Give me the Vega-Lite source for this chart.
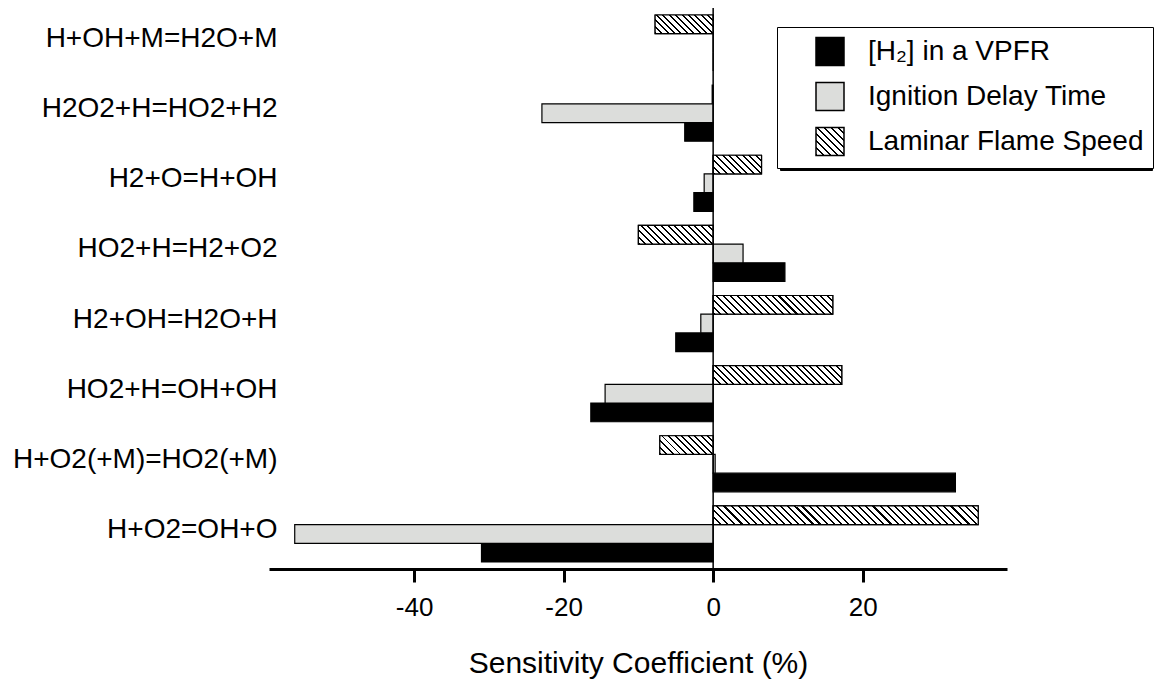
{
"$schema":"https://vega.github.io/schema/vega-lite/v6.json",
"width":738,"height":561,
"autosize":{"type":"none"},
"padding":{"left":269,"top":8,"right":149,"bottom":115},
"background":"white",
"config":{"view":{"stroke":null},"font":"Liberation Sans"},
"data":{"values":[
{"reaction":"H+OH+M=H2O+M","series":"[H₂] in a VPFR","value":0},
{"reaction":"H+OH+M=H2O+M","series":"Ignition Delay Time","value":0},
{"reaction":"H+OH+M=H2O+M","series":"Laminar Flame Speed","value":-7.76},
{"reaction":"H2O2+H=HO2+H2","series":"[H₂] in a VPFR","value":-3.8},
{"reaction":"H2O2+H=HO2+H2","series":"Ignition Delay Time","value":-22.9},
{"reaction":"H2O2+H=HO2+H2","series":"Laminar Flame Speed","value":-0.13},
{"reaction":"H2+O=H+OH","series":"[H₂] in a VPFR","value":-2.58},
{"reaction":"H2+O=H+OH","series":"Ignition Delay Time","value":-1.2},
{"reaction":"H2+O=H+OH","series":"Laminar Flame Speed","value":6.47},
{"reaction":"HO2+H=H2+O2","series":"[H₂] in a VPFR","value":9.6},
{"reaction":"HO2+H=H2+O2","series":"Ignition Delay Time","value":4.0},
{"reaction":"HO2+H=H2+O2","series":"Laminar Flame Speed","value":-10.0},
{"reaction":"H2+OH=H2O+H","series":"[H₂] in a VPFR","value":-5.0},
{"reaction":"H2+OH=H2O+H","series":"Ignition Delay Time","value":-1.65},
{"reaction":"H2+OH=H2O+H","series":"Laminar Flame Speed","value":16.0},
{"reaction":"HO2+H=OH+OH","series":"[H₂] in a VPFR","value":-16.36},
{"reaction":"HO2+H=OH+OH","series":"Ignition Delay Time","value":-14.45},
{"reaction":"HO2+H=OH+OH","series":"Laminar Flame Speed","value":17.2},
{"reaction":"H+O2(+M)=HO2(+M)","series":"[H₂] in a VPFR","value":32.4},
{"reaction":"H+O2(+M)=HO2(+M)","series":"Ignition Delay Time","value":0.27},
{"reaction":"H+O2(+M)=HO2(+M)","series":"Laminar Flame Speed","value":-7.13},
{"reaction":"H+O2=OH+O","series":"[H₂] in a VPFR","value":-30.98},
{"reaction":"H+O2=OH+O","series":"Ignition Delay Time","value":-55.96},
{"reaction":"H+O2=OH+O","series":"Laminar Flame Speed","value":35.45}
]},
"layer":[
{
"encoding":{
"x":{"field":"value","type":"quantitative","scale":{"domain":[-59.4,39.3],"nice":false,"zero":false},
 "axis":{"values":[-40,-20,0,20],"labelExpr":"replace(datum.label,'\u2212','-')","title":"Sensitivity Coefficient (%)","grid":false,"domainWidth":3,"domainColor":"#000","tickWidth":3,"tickColor":"#000","tickSize":13,"labelFont":"Liberation Sans","labelFontSize":26,"labelColor":"#000","labelPadding":12,"titleFont":"Liberation Sans","titleFontSize":30,"titleFontWeight":"normal","titleColor":"#000","titlePadding":28}},
"y":{"field":"reaction","type":"nominal","sort":["H+OH+M=H2O+M","H2O2+H=HO2+H2","H2+O=H+OH","HO2+H=H2+O2","H2+OH=H2O+H","HO2+H=OH+OH","H+O2(+M)=HO2(+M)","H+O2=OH+O"],
 "scale":{"paddingInner":0.2,"paddingOuter":0.1},
 "axis":{"title":null,"domain":false,"ticks":false,"tickSize":0,"labelFont":"Liberation Sans","labelFontSize":28,"labelColor":"#000","labelPadding":-8,"labelOffset":-4,"labelLimit":400}},
"yOffset":{"field":"series","type":"nominal","scale":{"domain":["Laminar Flame Speed","Ignition Delay Time","[H₂] in a VPFR"],"paddingInner":0,"paddingOuter":0}}
},
"layer":[
{"transform":[{"filter":{"field":"series","equal":"Laminar Flame Speed"}}],
 "mark":{"type":"bar","fill":"#000","strokeWidth":1.2},
 "encoding":{"stroke":{"field":"series","type":"nominal","scale":{"domain":["Laminar Flame Speed","Ignition Delay Time","[H₂] in a VPFR"],"range":["#000","#000","#000"]},
  "legend":{"title":null,"orient":"none","legendX":511,"legendY":22,"fillColor":"#000","strokeColor":"#000","padding":12.2,"symbolType":"square","symbolSize":784,"symbolFillColor":"#000","symbolStrokeColor":"#000","symbolStrokeWidth":1.5,"symbolOffset":25.8,"labelExpr":"''","labelOffset":291,"labelFont":"Liberation Sans","labelFontSize":28,"labelColor":"#000","labelLimit":400,"rowPadding":7.8,"cornerRadius":0}}}
},
{"transform":[{"filter":{"not":{"field":"series","equal":"Laminar Flame Speed"}}}],
 "mark":{"type":"bar","stroke":"#000","strokeWidth":1.2},
 "encoding":{"fill":{"field":"series","type":"nominal","scale":{"domain":["[H₂] in a VPFR","Ignition Delay Time","Laminar Flame Speed"],
  "range":["#000000","#dcdddb",{"expr":"{gradient:'linear',x1:0,y1:1,x2:1,y2:0,stops:[{offset:0,color:'#000'},{offset:0.0375,color:'#000'},{offset:0.0375,color:'#fff'},{offset:0.125,color:'#fff'},{offset:0.125,color:'#000'},{offset:0.1625,color:'#000'},{offset:0.1625,color:'#fff'},{offset:0.25,color:'#fff'},{offset:0.25,color:'#000'},{offset:0.2875,color:'#000'},{offset:0.2875,color:'#fff'},{offset:0.375,color:'#fff'},{offset:0.375,color:'#000'},{offset:0.4125,color:'#000'},{offset:0.4125,color:'#fff'},{offset:0.5,color:'#fff'},{offset:0.5,color:'#000'},{offset:0.5375,color:'#000'},{offset:0.5375,color:'#fff'},{offset:0.625,color:'#fff'},{offset:0.625,color:'#000'},{offset:0.6625,color:'#000'},{offset:0.6625,color:'#fff'},{offset:0.75,color:'#fff'},{offset:0.75,color:'#000'},{offset:0.7875,color:'#000'},{offset:0.7875,color:'#fff'},{offset:0.875,color:'#fff'},{offset:0.875,color:'#000'},{offset:0.9125,color:'#000'},{offset:0.9125,color:'#fff'},{offset:1,color:'#fff'}]}"}]},
  "legend":{"title":null,"orient":"none","legendX":508,"legendY":19,"fillColor":"#fff","strokeColor":"#000","padding":9.5,"symbolType":"square","symbolSize":784,"symbolStrokeColor":"#000","symbolStrokeWidth":1.5,"symbolOffset":28.5,"labelOffset":23,"labelFont":"Liberation Sans","labelFontSize":28,"labelColor":"#000","labelLimit":400,"rowPadding":11,"cornerRadius":0}}}
},
{"transform":[{"filter":{"and":[{"field":"series","equal":"Laminar Flame Speed"},{"field":"reaction","equal":"H+OH+M=H2O+M"}]}}],
 "mark":{"type":"bar","stroke":"#000","strokeWidth":1.2,"fill":{"gradient":"linear","x1":0,"y1":1,"x2":1.1979,"y2":0.6138,"stops":[
{"offset":0,"color":"#000"},{"offset":0.025,"color":"#000"},{"offset":0.025,"color":"#fff"},{"offset":0.08333,"color":"#fff"},
{"offset":0.08333,"color":"#000"},{"offset":0.10833,"color":"#000"},{"offset":0.10833,"color":"#fff"},{"offset":0.16667,"color":"#fff"},
{"offset":0.16667,"color":"#000"},{"offset":0.19167,"color":"#000"},{"offset":0.19167,"color":"#fff"},{"offset":0.25,"color":"#fff"},
{"offset":0.25,"color":"#000"},{"offset":0.275,"color":"#000"},{"offset":0.275,"color":"#fff"},{"offset":0.33333,"color":"#fff"},
{"offset":0.33333,"color":"#000"},{"offset":0.35833,"color":"#000"},{"offset":0.35833,"color":"#fff"},{"offset":0.41667,"color":"#fff"},
{"offset":0.41667,"color":"#000"},{"offset":0.44167,"color":"#000"},{"offset":0.44167,"color":"#fff"},{"offset":0.5,"color":"#fff"},
{"offset":0.5,"color":"#000"},{"offset":0.525,"color":"#000"},{"offset":0.525,"color":"#fff"},{"offset":0.58333,"color":"#fff"},
{"offset":0.58333,"color":"#000"},{"offset":0.60833,"color":"#000"},{"offset":0.60833,"color":"#fff"},{"offset":0.66667,"color":"#fff"},
{"offset":0.66667,"color":"#000"},{"offset":0.69167,"color":"#000"},{"offset":0.69167,"color":"#fff"},{"offset":0.75,"color":"#fff"},
{"offset":0.75,"color":"#000"},{"offset":0.775,"color":"#000"},{"offset":0.775,"color":"#fff"},{"offset":0.83333,"color":"#fff"},
{"offset":0.83333,"color":"#000"},{"offset":0.85833,"color":"#000"},{"offset":0.85833,"color":"#fff"},{"offset":0.91667,"color":"#fff"},
{"offset":0.91667,"color":"#000"},{"offset":0.94167,"color":"#000"},{"offset":0.94167,"color":"#fff"},{"offset":1,"color":"#fff"}]}}
},
{"transform":[{"filter":{"and":[{"field":"series","equal":"Laminar Flame Speed"},{"field":"reaction","equal":"H2+O=H+OH"}]}}],
 "mark":{"type":"bar","stroke":"#000","strokeWidth":1.2,"fill":{"gradient":"linear","x1":0,"y1":1,"x2":1.2063,"y2":0.5335,"stops":[
{"offset":0,"color":"#000"},{"offset":0.03,"color":"#000"},{"offset":0.03,"color":"#fff"},{"offset":0.1,"color":"#fff"},
{"offset":0.1,"color":"#000"},{"offset":0.13,"color":"#000"},{"offset":0.13,"color":"#fff"},{"offset":0.2,"color":"#fff"},
{"offset":0.2,"color":"#000"},{"offset":0.23,"color":"#000"},{"offset":0.23,"color":"#fff"},{"offset":0.3,"color":"#fff"},
{"offset":0.3,"color":"#000"},{"offset":0.33,"color":"#000"},{"offset":0.33,"color":"#fff"},{"offset":0.4,"color":"#fff"},
{"offset":0.4,"color":"#000"},{"offset":0.43,"color":"#000"},{"offset":0.43,"color":"#fff"},{"offset":0.5,"color":"#fff"},
{"offset":0.5,"color":"#000"},{"offset":0.53,"color":"#000"},{"offset":0.53,"color":"#fff"},{"offset":0.6,"color":"#fff"},
{"offset":0.6,"color":"#000"},{"offset":0.63,"color":"#000"},{"offset":0.63,"color":"#fff"},{"offset":0.7,"color":"#fff"},
{"offset":0.7,"color":"#000"},{"offset":0.73,"color":"#000"},{"offset":0.73,"color":"#fff"},{"offset":0.8,"color":"#fff"},
{"offset":0.8,"color":"#000"},{"offset":0.83,"color":"#000"},{"offset":0.83,"color":"#fff"},{"offset":0.9,"color":"#fff"},
{"offset":0.9,"color":"#000"},{"offset":0.93,"color":"#000"},{"offset":0.93,"color":"#fff"},{"offset":1,"color":"#fff"}]}}
},
{"transform":[{"filter":{"and":[{"field":"series","equal":"Laminar Flame Speed"},{"field":"reaction","equal":"HO2+H=H2+O2"}]}}],
 "mark":{"type":"bar","stroke":"#000","strokeWidth":1.2,"fill":{"gradient":"linear","x1":0,"y1":1,"x2":1.1765,"y2":0.7056,"stops":[
{"offset":0,"color":"#000"},{"offset":0.021429,"color":"#000"},{"offset":0.021429,"color":"#fff"},{"offset":0.071429,"color":"#fff"},
{"offset":0.071429,"color":"#000"},{"offset":0.092857,"color":"#000"},{"offset":0.092857,"color":"#fff"},{"offset":0.142857,"color":"#fff"},
{"offset":0.142857,"color":"#000"},{"offset":0.164286,"color":"#000"},{"offset":0.164286,"color":"#fff"},{"offset":0.214286,"color":"#fff"},
{"offset":0.214286,"color":"#000"},{"offset":0.235714,"color":"#000"},{"offset":0.235714,"color":"#fff"},{"offset":0.285714,"color":"#fff"},
{"offset":0.285714,"color":"#000"},{"offset":0.307143,"color":"#000"},{"offset":0.307143,"color":"#fff"},{"offset":0.357143,"color":"#fff"},
{"offset":0.357143,"color":"#000"},{"offset":0.378571,"color":"#000"},{"offset":0.378571,"color":"#fff"},{"offset":0.428571,"color":"#fff"},
{"offset":0.428571,"color":"#000"},{"offset":0.45,"color":"#000"},{"offset":0.45,"color":"#fff"},{"offset":0.5,"color":"#fff"},
{"offset":0.5,"color":"#000"},{"offset":0.521429,"color":"#000"},{"offset":0.521429,"color":"#fff"},{"offset":0.571429,"color":"#fff"},
{"offset":0.571429,"color":"#000"},{"offset":0.592857,"color":"#000"},{"offset":0.592857,"color":"#fff"},{"offset":0.642857,"color":"#fff"},
{"offset":0.642857,"color":"#000"},{"offset":0.664286,"color":"#000"},{"offset":0.664286,"color":"#fff"},{"offset":0.714286,"color":"#fff"},
{"offset":0.714286,"color":"#000"},{"offset":0.735714,"color":"#000"},{"offset":0.735714,"color":"#fff"},{"offset":0.785714,"color":"#fff"},
{"offset":0.785714,"color":"#000"},{"offset":0.807143,"color":"#000"},{"offset":0.807143,"color":"#fff"},{"offset":0.857143,"color":"#fff"},
{"offset":0.857143,"color":"#000"},{"offset":0.878571,"color":"#000"},{"offset":0.878571,"color":"#fff"},{"offset":0.928571,"color":"#fff"},
{"offset":0.928571,"color":"#000"},{"offset":0.95,"color":"#000"},{"offset":0.95,"color":"#fff"},{"offset":1,"color":"#fff"}]}}
},
{"transform":[{"filter":{"and":[{"field":"series","equal":"Laminar Flame Speed"},{"field":"reaction","equal":"H2+OH=H2O+H"}]}}],
 "mark":{"type":"bar","stroke":"#000","strokeWidth":1.2,"fill":{"gradient":"linear","x1":0,"y1":1,"x2":1.1288,"y2":0.8235,"stops":[
{"offset":0,"color":"#000"},{"offset":0.015,"color":"#000"},{"offset":0.015,"color":"#fff"},{"offset":0.05,"color":"#fff"},
{"offset":0.05,"color":"#000"},{"offset":0.065,"color":"#000"},{"offset":0.065,"color":"#fff"},{"offset":0.1,"color":"#fff"},
{"offset":0.1,"color":"#000"},{"offset":0.115,"color":"#000"},{"offset":0.115,"color":"#fff"},{"offset":0.15,"color":"#fff"},
{"offset":0.15,"color":"#000"},{"offset":0.165,"color":"#000"},{"offset":0.165,"color":"#fff"},{"offset":0.2,"color":"#fff"},
{"offset":0.2,"color":"#000"},{"offset":0.215,"color":"#000"},{"offset":0.215,"color":"#fff"},{"offset":0.25,"color":"#fff"},
{"offset":0.25,"color":"#000"},{"offset":0.265,"color":"#000"},{"offset":0.265,"color":"#fff"},{"offset":0.3,"color":"#fff"},
{"offset":0.3,"color":"#000"},{"offset":0.315,"color":"#000"},{"offset":0.315,"color":"#fff"},{"offset":0.35,"color":"#fff"},
{"offset":0.35,"color":"#000"},{"offset":0.365,"color":"#000"},{"offset":0.365,"color":"#fff"},{"offset":0.4,"color":"#fff"},
{"offset":0.4,"color":"#000"},{"offset":0.415,"color":"#000"},{"offset":0.415,"color":"#fff"},{"offset":0.45,"color":"#fff"},
{"offset":0.45,"color":"#000"},{"offset":0.465,"color":"#000"},{"offset":0.465,"color":"#fff"},{"offset":0.5,"color":"#fff"},
{"offset":0.5,"color":"#000"},{"offset":0.515,"color":"#000"},{"offset":0.515,"color":"#fff"},{"offset":0.55,"color":"#fff"},
{"offset":0.55,"color":"#000"},{"offset":0.565,"color":"#000"},{"offset":0.565,"color":"#fff"},{"offset":0.6,"color":"#fff"},
{"offset":0.6,"color":"#000"},{"offset":0.615,"color":"#000"},{"offset":0.615,"color":"#fff"},{"offset":0.65,"color":"#fff"},
{"offset":0.65,"color":"#000"},{"offset":0.665,"color":"#000"},{"offset":0.665,"color":"#fff"},{"offset":0.7,"color":"#fff"},
{"offset":0.7,"color":"#000"},{"offset":0.715,"color":"#000"},{"offset":0.715,"color":"#fff"},{"offset":0.75,"color":"#fff"},
{"offset":0.75,"color":"#000"},{"offset":0.765,"color":"#000"},{"offset":0.765,"color":"#fff"},{"offset":0.8,"color":"#fff"},
{"offset":0.8,"color":"#000"},{"offset":0.815,"color":"#000"},{"offset":0.815,"color":"#fff"},{"offset":0.85,"color":"#fff"},
{"offset":0.85,"color":"#000"},{"offset":0.865,"color":"#000"},{"offset":0.865,"color":"#fff"},{"offset":0.9,"color":"#fff"},
{"offset":0.9,"color":"#000"},{"offset":0.915,"color":"#000"},{"offset":0.915,"color":"#fff"},{"offset":0.95,"color":"#fff"},
{"offset":0.95,"color":"#000"},{"offset":0.965,"color":"#000"},{"offset":0.965,"color":"#fff"},{"offset":1,"color":"#fff"}]}}
},
{"transform":[{"filter":{"and":[{"field":"series","equal":"Laminar Flame Speed"},{"field":"reaction","equal":"HO2+H=OH+OH"}]}}],
 "mark":{"type":"bar","stroke":"#000","strokeWidth":1.2,"fill":{"gradient":"linear","x1":0,"y1":1,"x2":1.1217,"y2":0.8369,"stops":[
{"offset":0,"color":"#000"},{"offset":0.013636,"color":"#000"},{"offset":0.013636,"color":"#fff"},{"offset":0.045455,"color":"#fff"},
{"offset":0.045455,"color":"#000"},{"offset":0.059091,"color":"#000"},{"offset":0.059091,"color":"#fff"},{"offset":0.090909,"color":"#fff"},
{"offset":0.090909,"color":"#000"},{"offset":0.104545,"color":"#000"},{"offset":0.104545,"color":"#fff"},{"offset":0.136364,"color":"#fff"},
{"offset":0.136364,"color":"#000"},{"offset":0.15,"color":"#000"},{"offset":0.15,"color":"#fff"},{"offset":0.181818,"color":"#fff"},
{"offset":0.181818,"color":"#000"},{"offset":0.195455,"color":"#000"},{"offset":0.195455,"color":"#fff"},{"offset":0.227273,"color":"#fff"},
{"offset":0.227273,"color":"#000"},{"offset":0.240909,"color":"#000"},{"offset":0.240909,"color":"#fff"},{"offset":0.272727,"color":"#fff"},
{"offset":0.272727,"color":"#000"},{"offset":0.286364,"color":"#000"},{"offset":0.286364,"color":"#fff"},{"offset":0.318182,"color":"#fff"},
{"offset":0.318182,"color":"#000"},{"offset":0.331818,"color":"#000"},{"offset":0.331818,"color":"#fff"},{"offset":0.363636,"color":"#fff"},
{"offset":0.363636,"color":"#000"},{"offset":0.377273,"color":"#000"},{"offset":0.377273,"color":"#fff"},{"offset":0.409091,"color":"#fff"},
{"offset":0.409091,"color":"#000"},{"offset":0.422727,"color":"#000"},{"offset":0.422727,"color":"#fff"},{"offset":0.454545,"color":"#fff"},
{"offset":0.454545,"color":"#000"},{"offset":0.468182,"color":"#000"},{"offset":0.468182,"color":"#fff"},{"offset":0.5,"color":"#fff"},
{"offset":0.5,"color":"#000"},{"offset":0.513636,"color":"#000"},{"offset":0.513636,"color":"#fff"},{"offset":0.545455,"color":"#fff"},
{"offset":0.545455,"color":"#000"},{"offset":0.559091,"color":"#000"},{"offset":0.559091,"color":"#fff"},{"offset":0.590909,"color":"#fff"},
{"offset":0.590909,"color":"#000"},{"offset":0.604545,"color":"#000"},{"offset":0.604545,"color":"#fff"},{"offset":0.636364,"color":"#fff"},
{"offset":0.636364,"color":"#000"},{"offset":0.65,"color":"#000"},{"offset":0.65,"color":"#fff"},{"offset":0.681818,"color":"#fff"},
{"offset":0.681818,"color":"#000"},{"offset":0.695455,"color":"#000"},{"offset":0.695455,"color":"#fff"},{"offset":0.727273,"color":"#fff"},
{"offset":0.727273,"color":"#000"},{"offset":0.740909,"color":"#000"},{"offset":0.740909,"color":"#fff"},{"offset":0.772727,"color":"#fff"},
{"offset":0.772727,"color":"#000"},{"offset":0.786364,"color":"#000"},{"offset":0.786364,"color":"#fff"},{"offset":0.818182,"color":"#fff"},
{"offset":0.818182,"color":"#000"},{"offset":0.831818,"color":"#000"},{"offset":0.831818,"color":"#fff"},{"offset":0.863636,"color":"#fff"},
{"offset":0.863636,"color":"#000"},{"offset":0.877273,"color":"#000"},{"offset":0.877273,"color":"#fff"},{"offset":0.909091,"color":"#fff"},
{"offset":0.909091,"color":"#000"},{"offset":0.922727,"color":"#000"},{"offset":0.922727,"color":"#fff"},{"offset":0.954545,"color":"#fff"},
{"offset":0.954545,"color":"#000"},{"offset":0.968182,"color":"#000"},{"offset":0.968182,"color":"#fff"},{"offset":1,"color":"#fff"}]}}
},
{"transform":[{"filter":{"and":[{"field":"series","equal":"Laminar Flame Speed"},{"field":"reaction","equal":"H+O2(+M)=HO2(+M)"}]}}],
 "mark":{"type":"bar","stroke":"#000","strokeWidth":1.2,"fill":{"gradient":"linear","x1":0,"y1":1,"x2":1.2028,"y2":0.5781,"stops":[
{"offset":0,"color":"#000"},{"offset":0.027273,"color":"#000"},{"offset":0.027273,"color":"#fff"},{"offset":0.090909,"color":"#fff"},
{"offset":0.090909,"color":"#000"},{"offset":0.118182,"color":"#000"},{"offset":0.118182,"color":"#fff"},{"offset":0.181818,"color":"#fff"},
{"offset":0.181818,"color":"#000"},{"offset":0.209091,"color":"#000"},{"offset":0.209091,"color":"#fff"},{"offset":0.272727,"color":"#fff"},
{"offset":0.272727,"color":"#000"},{"offset":0.3,"color":"#000"},{"offset":0.3,"color":"#fff"},{"offset":0.363636,"color":"#fff"},
{"offset":0.363636,"color":"#000"},{"offset":0.390909,"color":"#000"},{"offset":0.390909,"color":"#fff"},{"offset":0.454545,"color":"#fff"},
{"offset":0.454545,"color":"#000"},{"offset":0.481818,"color":"#000"},{"offset":0.481818,"color":"#fff"},{"offset":0.545455,"color":"#fff"},
{"offset":0.545455,"color":"#000"},{"offset":0.572727,"color":"#000"},{"offset":0.572727,"color":"#fff"},{"offset":0.636364,"color":"#fff"},
{"offset":0.636364,"color":"#000"},{"offset":0.663636,"color":"#000"},{"offset":0.663636,"color":"#fff"},{"offset":0.727273,"color":"#fff"},
{"offset":0.727273,"color":"#000"},{"offset":0.754545,"color":"#000"},{"offset":0.754545,"color":"#fff"},{"offset":0.818182,"color":"#fff"},
{"offset":0.818182,"color":"#000"},{"offset":0.845455,"color":"#000"},{"offset":0.845455,"color":"#fff"},{"offset":0.909091,"color":"#fff"},
{"offset":0.909091,"color":"#000"},{"offset":0.936364,"color":"#000"},{"offset":0.936364,"color":"#fff"},{"offset":1,"color":"#fff"}]}}
},
{"transform":[{"filter":{"and":[{"field":"series","equal":"Laminar Flame Speed"},{"field":"reaction","equal":"H+O2=OH+O"}]}}],
 "mark":{"type":"bar","stroke":"#000","strokeWidth":1.2,"fill":{"gradient":"linear","x1":0,"y1":1,"x2":1.0653,"y2":0.9248,"stops":[
{"offset":0,"color":"#000"},{"offset":0.0075,"color":"#000"},{"offset":0.0075,"color":"#fff"},{"offset":0.025,"color":"#fff"},
{"offset":0.025,"color":"#000"},{"offset":0.0325,"color":"#000"},{"offset":0.0325,"color":"#fff"},{"offset":0.05,"color":"#fff"},
{"offset":0.05,"color":"#000"},{"offset":0.0575,"color":"#000"},{"offset":0.0575,"color":"#fff"},{"offset":0.075,"color":"#fff"},
{"offset":0.075,"color":"#000"},{"offset":0.0825,"color":"#000"},{"offset":0.0825,"color":"#fff"},{"offset":0.1,"color":"#fff"},
{"offset":0.1,"color":"#000"},{"offset":0.1075,"color":"#000"},{"offset":0.1075,"color":"#fff"},{"offset":0.125,"color":"#fff"},
{"offset":0.125,"color":"#000"},{"offset":0.1325,"color":"#000"},{"offset":0.1325,"color":"#fff"},{"offset":0.15,"color":"#fff"},
{"offset":0.15,"color":"#000"},{"offset":0.1575,"color":"#000"},{"offset":0.1575,"color":"#fff"},{"offset":0.175,"color":"#fff"},
{"offset":0.175,"color":"#000"},{"offset":0.1825,"color":"#000"},{"offset":0.1825,"color":"#fff"},{"offset":0.2,"color":"#fff"},
{"offset":0.2,"color":"#000"},{"offset":0.2075,"color":"#000"},{"offset":0.2075,"color":"#fff"},{"offset":0.225,"color":"#fff"},
{"offset":0.225,"color":"#000"},{"offset":0.2325,"color":"#000"},{"offset":0.2325,"color":"#fff"},{"offset":0.25,"color":"#fff"},
{"offset":0.25,"color":"#000"},{"offset":0.2575,"color":"#000"},{"offset":0.2575,"color":"#fff"},{"offset":0.275,"color":"#fff"},
{"offset":0.275,"color":"#000"},{"offset":0.2825,"color":"#000"},{"offset":0.2825,"color":"#fff"},{"offset":0.3,"color":"#fff"},
{"offset":0.3,"color":"#000"},{"offset":0.3075,"color":"#000"},{"offset":0.3075,"color":"#fff"},{"offset":0.325,"color":"#fff"},
{"offset":0.325,"color":"#000"},{"offset":0.3325,"color":"#000"},{"offset":0.3325,"color":"#fff"},{"offset":0.35,"color":"#fff"},
{"offset":0.35,"color":"#000"},{"offset":0.3575,"color":"#000"},{"offset":0.3575,"color":"#fff"},{"offset":0.375,"color":"#fff"},
{"offset":0.375,"color":"#000"},{"offset":0.3825,"color":"#000"},{"offset":0.3825,"color":"#fff"},{"offset":0.4,"color":"#fff"},
{"offset":0.4,"color":"#000"},{"offset":0.4075,"color":"#000"},{"offset":0.4075,"color":"#fff"},{"offset":0.425,"color":"#fff"},
{"offset":0.425,"color":"#000"},{"offset":0.4325,"color":"#000"},{"offset":0.4325,"color":"#fff"},{"offset":0.45,"color":"#fff"},
{"offset":0.45,"color":"#000"},{"offset":0.4575,"color":"#000"},{"offset":0.4575,"color":"#fff"},{"offset":0.475,"color":"#fff"},
{"offset":0.475,"color":"#000"},{"offset":0.4825,"color":"#000"},{"offset":0.4825,"color":"#fff"},{"offset":0.5,"color":"#fff"},
{"offset":0.5,"color":"#000"},{"offset":0.5075,"color":"#000"},{"offset":0.5075,"color":"#fff"},{"offset":0.525,"color":"#fff"},
{"offset":0.525,"color":"#000"},{"offset":0.5325,"color":"#000"},{"offset":0.5325,"color":"#fff"},{"offset":0.55,"color":"#fff"},
{"offset":0.55,"color":"#000"},{"offset":0.5575,"color":"#000"},{"offset":0.5575,"color":"#fff"},{"offset":0.575,"color":"#fff"},
{"offset":0.575,"color":"#000"},{"offset":0.5825,"color":"#000"},{"offset":0.5825,"color":"#fff"},{"offset":0.6,"color":"#fff"},
{"offset":0.6,"color":"#000"},{"offset":0.6075,"color":"#000"},{"offset":0.6075,"color":"#fff"},{"offset":0.625,"color":"#fff"},
{"offset":0.625,"color":"#000"},{"offset":0.6325,"color":"#000"},{"offset":0.6325,"color":"#fff"},{"offset":0.65,"color":"#fff"},
{"offset":0.65,"color":"#000"},{"offset":0.6575,"color":"#000"},{"offset":0.6575,"color":"#fff"},{"offset":0.675,"color":"#fff"},
{"offset":0.675,"color":"#000"},{"offset":0.6825,"color":"#000"},{"offset":0.6825,"color":"#fff"},{"offset":0.7,"color":"#fff"},
{"offset":0.7,"color":"#000"},{"offset":0.7075,"color":"#000"},{"offset":0.7075,"color":"#fff"},{"offset":0.725,"color":"#fff"},
{"offset":0.725,"color":"#000"},{"offset":0.7325,"color":"#000"},{"offset":0.7325,"color":"#fff"},{"offset":0.75,"color":"#fff"},
{"offset":0.75,"color":"#000"},{"offset":0.7575,"color":"#000"},{"offset":0.7575,"color":"#fff"},{"offset":0.775,"color":"#fff"},
{"offset":0.775,"color":"#000"},{"offset":0.7825,"color":"#000"},{"offset":0.7825,"color":"#fff"},{"offset":0.8,"color":"#fff"},
{"offset":0.8,"color":"#000"},{"offset":0.8075,"color":"#000"},{"offset":0.8075,"color":"#fff"},{"offset":0.825,"color":"#fff"},
{"offset":0.825,"color":"#000"},{"offset":0.8325,"color":"#000"},{"offset":0.8325,"color":"#fff"},{"offset":0.85,"color":"#fff"},
{"offset":0.85,"color":"#000"},{"offset":0.8575,"color":"#000"},{"offset":0.8575,"color":"#fff"},{"offset":0.875,"color":"#fff"},
{"offset":0.875,"color":"#000"},{"offset":0.8825,"color":"#000"},{"offset":0.8825,"color":"#fff"},{"offset":0.9,"color":"#fff"},
{"offset":0.9,"color":"#000"},{"offset":0.9075,"color":"#000"},{"offset":0.9075,"color":"#fff"},{"offset":0.925,"color":"#fff"},
{"offset":0.925,"color":"#000"},{"offset":0.9325,"color":"#000"},{"offset":0.9325,"color":"#fff"},{"offset":0.95,"color":"#fff"},
{"offset":0.95,"color":"#000"},{"offset":0.9575,"color":"#000"},{"offset":0.9575,"color":"#fff"},{"offset":0.975,"color":"#fff"},
{"offset":0.975,"color":"#000"},{"offset":0.9825,"color":"#000"},{"offset":0.9825,"color":"#fff"},{"offset":1,"color":"#fff"}]}}
}
]
},
{"data":{"values":[{}]},"mark":{"type":"rule","color":"#000","strokeWidth":1.5},"encoding":{"x":{"datum":0}}}
]
}
